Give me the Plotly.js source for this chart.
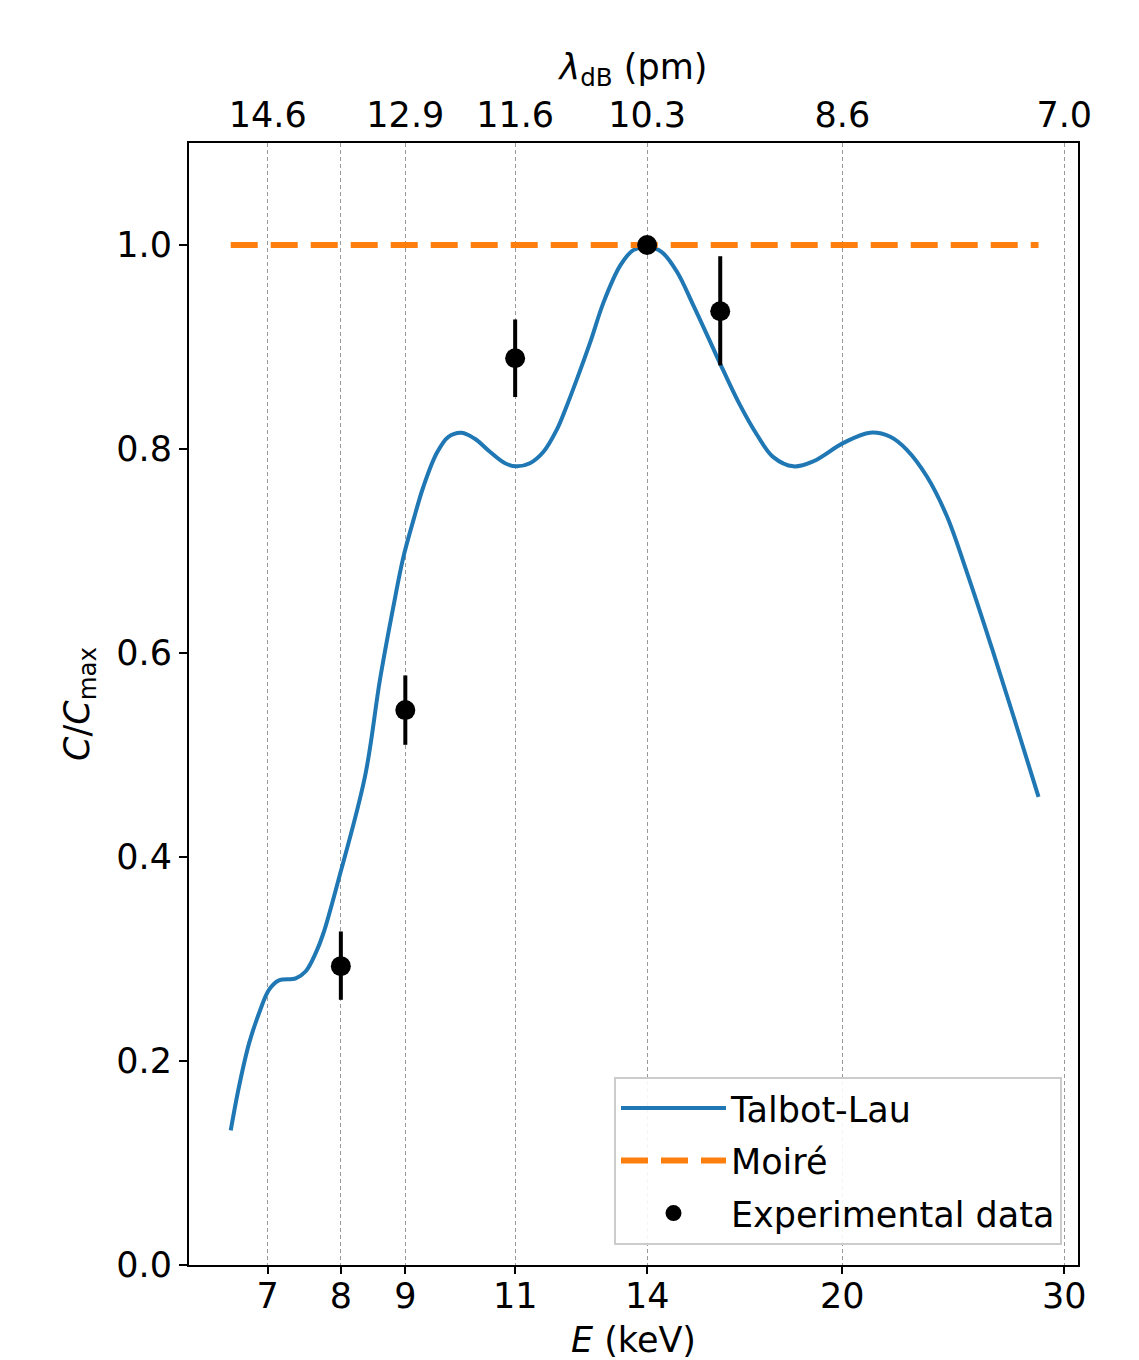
<!DOCTYPE html>
<html>
<head>
<meta charset="utf-8">
<script src="https://cdn.plot.ly/plotly-3.0.1.min.js"></script>
<style>html,body{margin:0;padding:0;background:#fff;}#chart{width:1139px;height:1360px;}</style>
</head>
<body>
<div id="chart"></div>
<script>
// Talbot-Lau theory curve (E in keV, C/Cmax)
const talbotE = [6.542, 6.642, 6.764, 6.890, 7.017, 7.145, 7.367, 7.503, 7.642, 7.748,
  7.963, 8.361, 8.593, 8.804, 8.968, 9.133, 9.302, 9.532, 9.737, 9.977,
  10.22, 10.51, 10.80, 11.03, 11.30, 11.58, 11.87, 12.05, 12.31, 12.62,
  12.93, 13.33, 13.65, 14.03, 14.38, 14.78, 15.23, 15.71, 16.09, 16.59,
  17.11, 17.63, 18.29, 18.97, 20.04, 21.04, 21.83, 22.51, 23.34, 24.21,
  25.11, 26.20, 27.34, 28.62];
const talbotC = [0.132, 0.175, 0.217, 0.247, 0.270, 0.279, 0.281, 0.288, 0.306, 0.325,
  0.377, 0.479, 0.574, 0.645, 0.694, 0.730, 0.763, 0.796, 0.812, 0.816,
  0.810, 0.797, 0.786, 0.783, 0.786, 0.797, 0.819, 0.838, 0.868, 0.905,
  0.944, 0.980, 0.995, 0.998, 0.993, 0.974, 0.941, 0.905, 0.877, 0.843,
  0.814, 0.792, 0.783, 0.788, 0.806, 0.816, 0.812, 0.799, 0.773, 0.734,
  0.679, 0.610, 0.538, 0.459];
// Moiré curve
const moireE = [6.542, 28.62];
const moireC = [1.0, 1.0];
// Experimental data
const expE = [8, 9, 11, 14, 16];
const expC = [0.293, 0.544, 0.889, 1.0, 0.935];
const expErrPlus = [0.034, 0.034, 0.038, 0.0, 0.054];
const expErrMinus = [0.033, 0.034, 0.038, 0.0, 0.053];
// Axis ticks
const energyTicks = [7, 8, 9, 11, 14, 20, 30];
const energyTickText = ['7', '8', '9', '11', '14', '20', '30'];
const lambdaTickText = ['14.6', '', '12.9', '11.6', '10.3', '8.6', '7.0'];

const FONT = 'DejaVu Sans, Liberation Sans, sans-serif';
const xRange = [0.7826, 1.4880];

const traces = [
  {x: talbotE, y: talbotC, type: 'scatter', mode: 'lines', name: 'Talbot-Lau',
   line: {color: '#1f77b4', width: 4, shape: 'spline', smoothing: 1.0}, legendgroup: 'a'},
  {x: moireE, y: moireC, type: 'scatter', mode: 'lines', name: 'Moiré',
   line: {color: '#ff7f0e', width: 6, dash: '27px,13px'}, legendgroup: 'b'},
  {x: expE, y: expC, type: 'scatter', mode: 'markers', name: 'Experimental data',
   marker: {color: '#000', size: 20},
   error_y: {type: 'data', symmetric: false, array: expErrPlus, arrayminus: expErrMinus,
             color: '#000', thickness: 4, width: 0}, legendgroup: 'c'},
  {x: energyTicks, y: energyTicks.map(() => null), xaxis: 'x2', yaxis: 'y', type: 'scatter',
   mode: 'markers', showlegend: false, hoverinfo: 'skip'}
];

const layout = {
  width: 1139, height: 1360,
  margin: {l: 189, r: 61, t: 143, b: 95},
  paper_bgcolor: '#fff', plot_bgcolor: '#fff',
  font: {family: FONT, size: 35, color: '#000'},
  showlegend: true,
  legend: {x: 0.982, y: 0.018, xanchor: 'right', yanchor: 'bottom',
           bgcolor: 'rgba(255,255,255,0.9)', bordercolor: '#cccccc', borderwidth: 2,
           font: {family: FONT, size: 35, color: '#000'},
           traceorder: 'grouped', tracegroupgap: 4, itemwidth: 105},
  xaxis: {type: 'log', range: xRange, tickvals: energyTicks, ticktext: energyTickText,
          showline: true, linecolor: '#000', linewidth: 2, mirror: false,
          ticks: 'outside', ticklen: 7, tickwidth: 2, tickcolor: '#000',
          ticklabelstandoff: -8,
          showgrid: true, gridcolor: '#999', gridwidth: 1, griddash: '4px,3px',
          zeroline: false, tickfont: {family: FONT, size: 35},
          title: {text: '<i>E</i> (keV)', font: {family: FONT, size: 35}, standoff: 22}},
  xaxis2: {type: 'log', range: xRange, overlaying: 'x', side: 'top', anchor: 'y',
           tickvals: energyTicks, ticktext: lambdaTickText,
           showline: true, linecolor: '#000', linewidth: 2,
           ticks: '', showgrid: false, zeroline: false,
           tickfont: {family: FONT, size: 35},
           title: {text: '<i>λ</i><sub>dB</sub> (pm)', font: {family: FONT, size: 35}, standoff: 5}},
  yaxis: {range: [0, 1.1], tickvals: [0, 0.2, 0.4, 0.6, 0.8, 1.0], tickformat: '.1f',
          showline: true, linecolor: '#000', linewidth: 2, mirror: true,
          ticks: 'outside', ticklen: 8, tickwidth: 2, tickcolor: '#000',
          showgrid: false, zeroline: false, tickfont: {family: FONT, size: 35},
          title: {text: '<i>C</i>/<i>C</i><sub>max</sub>', font: {family: FONT, size: 35}, standoff: 16}}
};

Plotly.newPlot('chart', traces, layout, {displayModeBar: false, staticPlot: true});
</script>
</body>
</html>
